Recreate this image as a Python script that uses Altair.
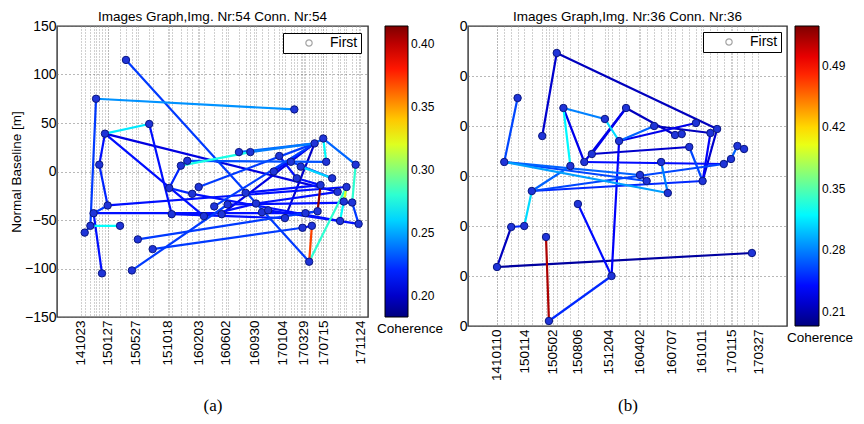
import altair as alt
import pandas as pd

# ---------------- panel (a) ----------------
a_title = "Images Graph,Img. Nr:54 Conn. Nr:54"
a_caption = "(a)"
a_node_days = [182, 61, 276, 97, 74, 430, 404, 357, 476, 450, 108, 367, 497, 539, 51,
               38, 15, 158, 230, 290, 85, 206, 863, 639, 685, 802, 849, 889, 945, 980,
               992, 1111, 780, 873, 1016, 969, 1074, 1038, 666, 708, 593, 569, 732, 757,
               825, 908, 957, 896, 934, 923, 1048, 1063, 1097, 1123]
a_node_bl = [115, 75, 49, 39, 7, 11, 6, -17, -16, -23, -35, -44, -46, -36, -43,
             -56, -63, -56, -70, -80, -105, -102, 64, 20, 20, 16, 10, 5, 29, 34,
             10, 7, 0, -7, -7, -14, -16, -21, -22, -33, -34, -44, -42, -40,
             -48, -43, -41, -58, -56, -93, -51, -31, -32, -54]
a_edge_from = [0, 1, 1, 20, 3, 2, 3, 4, 3, 3, 6, 5, 6, 8, 10, 14, 15, 16, 14, 19, 21, 49, 49,
               35, 36, 31, 29, 29, 23, 24, 13, 41, 32, 44, 28, 25, 26, 27, 33, 18, 38, 40,
               39, 42, 43, 11, 9, 12, 47, 45, 36, 53, 7, 5]
a_edge_to = [49, 22, 15, 14, 2, 11, 4, 10, 37, 12, 24, 30, 7, 28, 36, 45, 17, 15, 10, 47, 40, 48, 36,
             46, 51, 52, 31, 30, 28, 28, 28, 28, 28, 28, 29, 33, 34, 34, 35, 46, 35, 52,
             37, 43, 53, 44, 50, 39, 48, 46, 50, 52, 9, 6]
a_edge_coh = [0.225, 0.245, 0.225, 0.215, 0.265, 0.215, 0.215, 0.22, 0.205, 0.215, 0.275, 0.23,
              0.22, 0.225, 0.215, 0.215, 0.27, 0.225, 0.225, 0.225, 0.225, 0.37, 0.28,
              0.41, 0.32, 0.28, 0.235, 0.27, 0.235, 0.24, 0.225, 0.205, 0.215, 0.2, 0.235,
              0.215, 0.225, 0.26, 0.215, 0.225, 0.215, 0.215, 0.215, 0.215, 0.215, 0.215,
              0.215, 0.215, 0.215, 0.215, 0.27, 0.225, 0.22, 0.27]
a_tick_days = [0, 109, 222, 350, 475, 586, 701, 815, 902, 979, 1130]
a_tick_labels = ["141023", "150127", "150527", "151018", "160203", "160602",
                 "160930", "170104", "170329", "170715", "171124"]
a_x_domain = [-97, 1161]
a_coh_domain = [0.183, 0.414]
a_coh_ticks = [0.2, 0.25, 0.3, 0.35, 0.4]

# ---------------- panel (b) ----------------
b_title = "Images Graph,Img. Nr:36 Conn. Nr:36"
b_caption = "(b)"
b_node_days = [207, 72, 230, 157, 373, 446, 422, 328, 302, 26, 254, 121, 280, 50, 95,
               170, 1, 396, 180, 543, 615, 638, 687, 737, 760, 664, 830, 853, 808, 783,
               567, 494, 517, 710, 590, 880]
b_node_bl = [123, 78, 68, 40, 57, 68, 35, 22, 14, 14, 10, -15, -28, -51, -50,
             -61, -91, -100, -145, 50, 41, 42, 53, 43, 47, 29, 30, 27, 17, 12,
             14, 1, -5, -5, -17, -77]
b_edge_from = [0, 0, 1, 2, 2, 2, 4, 5, 5, 19, 6, 6, 9, 9, 9, 16, 16, 13, 14, 11, 11, 11,
               12, 17, 15, 8, 23, 24, 25, 26, 27, 28, 30, 31, 19, 7, 8]
b_edge_to = [24, 3, 9, 10, 8, 4, 6, 7, 20, 6, 22, 17, 34, 32, 31, 13, 35, 14, 11, 10, 33, 29,
             17, 18, 18, 5, 33, 33, 33, 28, 26, 29, 34, 32, 23, 25, 29]
b_edge_coh = [0.215, 0.22, 0.26, 0.32, 0.23, 0.28, 0.31, 0.23, 0.215, 0.27, 0.23, 0.235,
              0.29, 0.26, 0.27, 0.215, 0.205, 0.25, 0.31, 0.27, 0.25, 0.26, 0.24, 0.25,
              0.52, 0.23, 0.235, 0.22, 0.26, 0.27, 0.24, 0.25, 0.28, 0.22, 0.215, 0.22, 0.24]
b_tick_days = [0, 95, 193, 280, 385, 492, 602, 706, 810, 902]
b_tick_labels = ["1410110", "150114", "150502", "150806", "151204", "160402",
                 "160707", "161011", "170115", "170327"]
b_x_domain = [-99, 1001]
b_coh_domain = [0.194, 0.535]
b_coh_ticks = [0.21, 0.28, 0.35, 0.42, 0.49]

y_ticks = [-150, -100, -50, 0, 50, 100, 150]
JET = ["#00007f", "#0000ff", "#007fff", "#00ffff", "#7fff7f",
       "#ffff00", "#ff7f00", "#ff0000", "#7f0000"]
SANS = "Liberation Sans"


def panel(node_days, node_bl, e_from, e_to, e_coh, tick_days, tick_labels, x_dom,
          title, caption, cap_pad, cdom, cvals, ytitle, ylabel_expr, w, h,
          leg_off, grad_thick, first_off):
    nodes = pd.DataFrame({"x": node_days, "y": node_bl})
    edges = pd.DataFrame({
        "x": [node_days[i] for i in e_from],
        "y": [node_bl[i] for i in e_from],
        "x2": [node_days[j] for j in e_to],
        "y2": [node_bl[j] for j in e_to],
        "coh": e_coh,
    }).sort_values("coh")
    first = nodes.loc[[nodes["x"].idxmin()]].assign(label="First")

    xvals = sorted(set(tick_days) | set(node_days))
    lab_expr = (f"indexof({tick_days}, datum.value) >= 0 ? "
                f"{tick_labels}[indexof({tick_days}, datum.value)] : ''")
    xscale = alt.Scale(domain=x_dom, nice=False, zero=False)
    yscale = alt.Scale(domain=[-150, 150], nice=False, zero=False)
    xaxis = alt.Axis(values=xvals, labelExpr=lab_expr, labelAngle=270, labelFontSize=13.5,
                     labelFont=SANS, labelColor="black", ticks=False, labelPadding=3,
                     labelOverlap=False, labelFlush=False, labelBound=False,
                     grid=True, gridColor="#a0a0a0", gridDash=[1, 2], gridWidth=1,
                     domain=False, title=caption, titleFont="Liberation Serif",
                     titleFontSize=17, titleFontWeight="normal", titleColor="black",
                     titlePadding=cap_pad)
    yaxis_kw = dict(values=y_ticks, labelFontSize=14, labelFont=SANS, labelColor="black",
                    ticks=False, labelPadding=1, grid=True, gridColor="#707070",
                    gridDash=[1, 3], gridWidth=1, domain=False, labelOverlap=False,
                    labelFlush=False, titleFont=SANS, titleFontSize=13.5,
                    titleFontWeight="normal", titleColor="black", titlePadding=1)
    if ylabel_expr:
        yaxis_kw["labelExpr"] = ylabel_expr
    yaxis = alt.Axis(title=ytitle, **yaxis_kw) if ytitle else alt.Axis(title=None, **yaxis_kw)

    X = lambda f: alt.X(f, scale=xscale, axis=xaxis)
    Y = lambda f: alt.Y(f, scale=yscale, axis=yaxis)

    first_layer = alt.Chart(first).mark_point(filled=False, color="#7f7f7f", size=40,
                                               strokeWidth=1.2).encode(
        x=X("x:Q"), y=Y("y:Q"),
        shape=alt.Shape("label:N", scale=alt.Scale(range=["circle"]),
                        legend=alt.Legend(title=None, orient="top-right", offset=first_off,
                                          strokeColor="black", fillColor="white",
                                          padding=3, symbolOffset=16, labelOffset=14,
                                          labelFontSize=14, labelFont=SANS,
                                          labelColor="black", symbolSize=40,
                                          symbolStrokeColor="#7f7f7f",
                                          symbolFillColor="white", symbolStrokeWidth=1.2,
                                          cornerRadius=0)),
    )
    edge_layer = alt.Chart(edges).mark_rule(strokeWidth=2.2, strokeCap="round").encode(
        x=X("x:Q"), y=Y("y:Q"), x2="x2:Q", y2="y2:Q",
        color=alt.Color("coh:Q",
                        scale=alt.Scale(domain=cdom, range=JET, interpolate="rgb"),
                        legend=alt.Legend(title="Coherence", titleOrient="bottom",
                                          titleAnchor="middle", titleAlign="center",
                                          orient="right", offset=leg_off,
                                          direction="vertical",
                                          gradientLength=h, gradientThickness=grad_thick,
                                          gradientStrokeColor="black", gradientStrokeWidth=1,
                                          values=cvals, labelFontSize=12, labelFont=SANS,
                                          labelColor="black", labelOffset=3,
                                          labelOverlap=False, titleFont=SANS,
                                          titleFontSize=13.5, titleFontWeight="normal",
                                          titleColor="black", titlePadding=4)),
    )
    node_layer = alt.Chart(nodes).mark_circle(size=55, color="#1f34d8", opacity=1,
                                              stroke="#0a1780", strokeWidth=1).encode(
        x=X("x:Q"), y=Y("y:Q"),
    )
    return alt.layer(first_layer, edge_layer, node_layer).properties(
        width=w, height=h,
        title=alt.TitleParams(title, fontSize=13.5, font=SANS, fontWeight="normal",
                              color="black", offset=-4, frame="group"),
    )


pa = panel(a_node_days, a_node_bl, a_edge_from, a_edge_to, a_edge_coh, a_tick_days,
           a_tick_labels, a_x_domain, a_title, a_caption, 32, a_coh_domain, a_coh_ticks,
           "Normal Baseline [m]", None, 311, 291, 9, 23, 7)
pb = panel(b_node_days, b_node_bl, b_edge_from, b_edge_to, b_edge_coh, b_tick_days,
           b_tick_labels, b_x_domain, b_title, b_caption, 17, b_coh_domain, b_coh_ticks,
           None, "slice(toString(datum.value), -1)", 319, 300, 0, 24, 6)

chart = alt.hconcat(pa, pb, spacing=13).resolve_scale(
    color="independent", shape="independent", x="independent", y="independent"
).properties(padding={"left": 0, "top": 0, "right": 0, "bottom": 0}).configure_view(
    stroke="#333333", strokeWidth=1.4
)

chart.save("out.html", embed_options={"renderer": "svg", "actions": False})
